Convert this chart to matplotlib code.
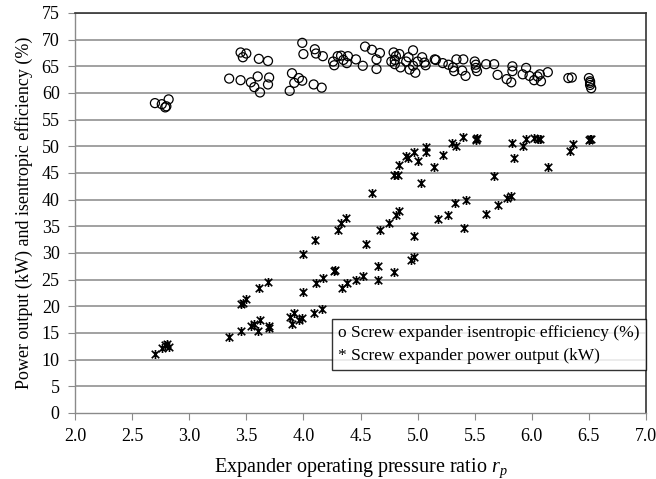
import matplotlib
matplotlib.use("Agg")
import matplotlib.pyplot as plt
from matplotlib.path import Path
from matplotlib.lines import Line2D

# Isentropic efficiency (%) vs pressure ratio
eff_x = [2.70, 2.76, 2.79, 2.80, 2.82,
         3.35, 3.45, 3.47, 3.50, 3.45, 3.54, 3.57, 3.60, 3.62, 3.61, 3.69, 3.70, 3.69,
         3.88, 3.90, 3.92, 3.96, 3.99, 3.99, 4.00, 4.10, 4.11, 4.09, 4.16, 4.17,
         4.26, 4.27, 4.30, 4.33, 4.35, 4.38, 4.39, 4.46, 4.52, 4.54, 4.60, 4.67, 4.64, 4.64,
         4.79, 4.77, 4.80, 4.81, 4.84, 4.80, 4.85, 4.90, 4.92, 4.96, 4.96, 4.93, 4.98, 5.00,
         5.04, 5.06, 5.07, 5.15, 5.16, 5.22, 5.27, 5.31, 5.34, 5.32, 5.40, 5.39, 5.42,
         5.50, 5.51, 5.51, 5.52, 5.60, 5.67, 5.70,
         5.78, 5.82, 5.83, 5.83, 5.92, 5.95, 5.98, 6.02, 6.05, 6.07, 6.08, 6.14,
         6.32, 6.35, 6.50, 6.51, 6.51, 6.52, 6.51]
eff_y = [58.1, 57.9, 57.3, 57.5, 58.8,
         62.7, 67.6, 66.7, 67.4, 62.4, 62.0, 61.1, 63.1, 60.1, 66.4, 66.0, 62.9, 61.6,
         60.4, 63.7, 61.9, 62.8, 62.3, 69.4, 67.3, 68.2, 67.4, 61.6, 61.0, 66.9,
         65.9, 65.2, 66.9, 67.0, 66.2, 65.6, 66.9, 66.3, 65.1, 68.7, 68.1, 67.5, 66.3, 64.5,
         67.6, 65.9, 66.2, 66.9, 67.3, 65.4, 64.8, 65.9, 66.7, 68.0, 65.1, 64.4, 63.8, 65.9,
         66.7, 65.7, 65.2, 66.3, 66.2, 65.6, 65.3, 64.8, 66.3, 64.1, 66.3, 64.2, 63.2,
         65.9, 65.3, 64.7, 64.1, 65.4, 65.4, 63.4,
         62.6, 62.0, 65.0, 64.1, 63.5, 64.7, 63.2, 62.4, 63.1, 63.5, 62.2, 63.9,
         62.8, 62.9, 62.8, 62.2, 61.5, 60.9, 61.9]

# Power output (kW) vs pressure ratio
pow_x = [2.70, 2.76, 2.79, 2.81, 2.82,
         3.35, 3.45, 3.47, 3.50, 3.45, 3.54, 3.57, 3.62, 3.60, 3.61, 3.69, 3.70, 3.70,
         3.88, 3.90, 3.92, 3.96, 3.99, 4.00, 4.00, 4.10, 4.11, 4.09, 4.16, 4.17,
         4.27, 4.28, 4.34, 4.38, 4.30, 4.33, 4.37, 4.46, 4.52,
         4.55, 4.65, 4.65, 4.67, 4.75, 4.79, 4.81, 4.84, 4.60, 4.79, 4.83, 4.84,
         4.90, 4.92, 4.94, 4.97, 4.97, 4.97, 5.00, 5.03,
         5.07, 5.07, 5.14, 5.18, 5.22, 5.27, 5.30, 5.33, 5.34, 5.40, 5.41, 5.42,
         5.51, 5.51, 5.52, 5.60, 5.67, 5.70, 5.78, 5.82, 5.83, 5.84,
         5.92, 5.95, 6.02, 6.05, 6.07, 6.14, 6.33, 6.36, 6.51, 6.52, 6.50]
pow_y = [11.0, 12.1, 12.7, 13.0, 12.3,
         14.3, 20.4, 20.7, 21.4, 15.4, 16.3, 16.7, 17.4, 15.3, 23.4, 24.6, 16.4, 16.0,
         18.0, 16.7, 18.8, 17.4, 17.9, 29.9, 22.6, 32.4, 24.3, 18.8, 19.5, 25.4,
         26.6, 26.9, 23.5, 24.3, 34.3, 35.7, 36.6, 24.9, 25.7,
         31.7, 24.9, 27.6, 34.4, 35.7, 26.5, 37.2, 37.9, 41.3, 44.6, 44.7, 46.5,
         48.2, 47.8, 28.6, 29.2, 33.1, 49.0, 47.2, 43.2,
         49.8, 48.9, 46.2, 36.4, 48.4, 37.1, 50.6, 39.4, 50.1, 51.7, 34.7, 39.9,
         51.4, 51.2, 51.5, 37.4, 44.4, 39.0, 40.4, 40.7, 50.6, 47.9,
         50.1, 51.3, 51.5, 51.4, 51.3, 46.1, 49.2, 50.4, 51.3, 51.4, 51.2]

x_ticks = [2.0, 2.5, 3.0, 3.5, 4.0, 4.5, 5.0, 5.5, 6.0, 6.5, 7.0]
y_ticks = list(range(0, 80, 5))

legend_labels = ["o Screw expander isentropic efficiency (%)",
                 "* Screw expander power output (kW)"]

plt.rcParams['font.family'] = ['Liberation Serif', 'DejaVu Serif']
plt.rcParams['mathtext.fontset'] = 'custom'
plt.rcParams['mathtext.rm'] = 'Liberation Serif'
plt.rcParams['mathtext.it'] = 'Liberation Serif:italic'

fig = plt.figure(figsize=(6.56, 4.79), dpi=100)
ax = fig.add_axes([0.1143, 0.1378, 0.8705, 0.8351])

star = Path([(-1, -1), (1, 1), (-1, 1), (1, -1), (0, -1.2), (0, 1.2)],
            [Path.MOVETO, Path.LINETO, Path.MOVETO, Path.LINETO, Path.MOVETO, Path.LINETO])

ax.scatter(eff_x, eff_y, s=42, facecolors='none', edgecolors='black', linewidths=0.9, zorder=3)
ax.scatter(pow_x, pow_y, s=42, marker=star, color='black', linewidths=1.2, zorder=3)

ax.set_xlim(2.0, 7.0)
ax.set_ylim(0, 75)
ax.set_xticks(x_ticks)
ax.set_xticklabels([f"{v:.1f}" for v in x_ticks])
ax.set_yticks(y_ticks)
ax.set_yticklabels([str(v) for v in y_ticks])

for y in y_ticks[1:]:
    ax.axhline(y, color='#9a9a9a', lw=1.3, zorder=1)

for s in ['left', 'bottom']:
    ax.spines[s].set_color('#8a8a8a')
    ax.spines[s].set_linewidth(1.0)
for s in ['top', 'right']:
    ax.spines[s].set_color('#333333')
    ax.spines[s].set_linewidth(1.2)

ax.tick_params(axis='both', direction='out', length=5, color='#8a8a8a', labelsize=13,
               labelcolor='black', pad=6)

ax.set_ylabel("Power output (kW) and isentropic efficiency (%)", fontsize=13, labelpad=6)
ax.set_xlabel("Expander operating pressure ratio $\\mathit{r_p}$", fontsize=14.5, labelpad=8)

handles = [Line2D([], [], linestyle='none', marker=None) for _ in legend_labels]
leg = ax.legend(handles, legend_labels, loc='upper right', bbox_to_anchor=(1.0, 0.2347),
                handlelength=0, handletextpad=0, fontsize=12.5, frameon=True, fancybox=False,
                borderpad=0.35, labelspacing=0.35, borderaxespad=0)
leg.get_frame().set_edgecolor('black')
leg.get_frame().set_linewidth(1.0)
leg.set_zorder(5)

fig.savefig("out.png", dpi=100)
